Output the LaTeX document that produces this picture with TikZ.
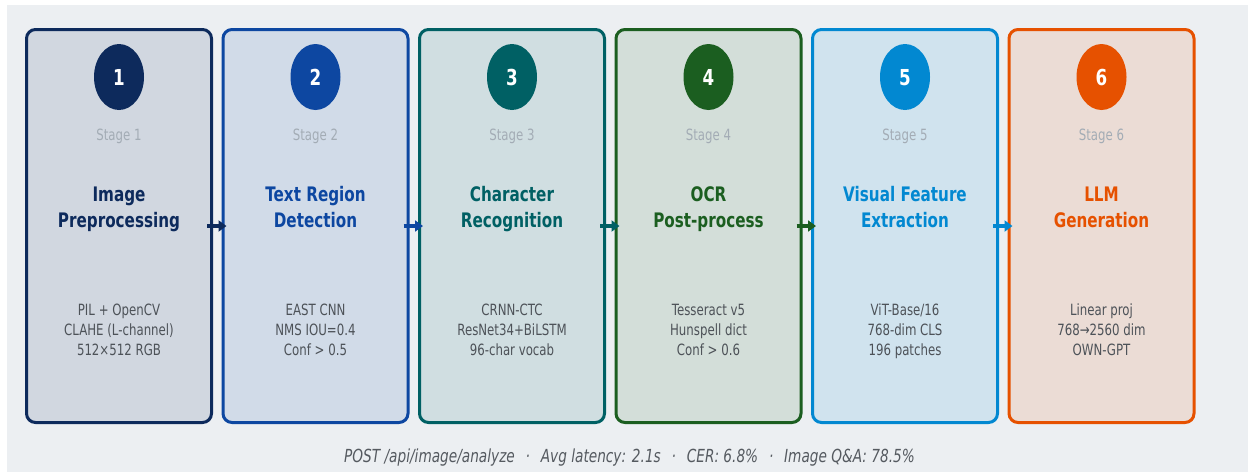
\documentclass[tikz,border=0pt]{standalone}
\usepackage{fontspec}
\setmainfont{DejaVu Sans}[FakeStretch=0.76]
\usetikzlibrary{arrows.meta}
\definecolor{bgc}{HTML}{ECEFF2}
\definecolor{cA}{HTML}{0D2A5C}
\definecolor{cB}{HTML}{0D47A1}
\definecolor{cC}{HTML}{006064}
\definecolor{cD}{HTML}{1B5E20}
\definecolor{cE}{HTML}{0288D1}
\definecolor{cF}{HTML}{E65100}
\definecolor{stagegray}{HTML}{A3ACB5}
\definecolor{detailgray}{HTML}{4D5258}
\definecolor{footgray}{HTML}{555A60}
\tikzset{
  stagecard/.style={draw=#1, fill=#1!12!bgc, line width=3pt, rounded corners=9pt,
    minimum width=185pt, minimum height=393pt, inner sep=0pt},
  stagelabel/.style={font=\fontsize{15.5}{18}\selectfont, text=stagegray, anchor=base, inner sep=0pt},
  titleline/.style={font=\fontsize{20}{24}\selectfont\bfseries, text=#1, anchor=base, inner sep=0pt},
  detailline/.style={font=\fontsize{15.5}{18}\selectfont, text=detailgray, anchor=base, inner sep=0pt},
  numtext/.style={font=\fontsize{22}{24}\selectfont\bfseries, text=white, anchor=base, inner sep=0pt},
  flowarrow/.style={draw=#1, line width=4pt, -{Triangle[length=8pt,width=11pt]}},
}
% #1 index, #2 x centre, #3 colour, #4 title 1, #5 title 2, #6-#8 details
\newcommand\stagebox[8]{%
  \node[stagecard=#3] (b#1) at (#2,226) {};
  \fill[#3] (#2,77) ellipse [x radius=25pt, y radius=33pt];
  \node[numtext] (n#1) at (#2,85) {#1};
  \node[stagelabel] (s#1) at (#2,140) {Stage #1};
  \node[titleline=#3] (ta#1) at (#2,201.5) {#4};
  \node[titleline=#3] (tb#1) at (#2,227.5) {#5};
  \node[detailline] (da#1) at (#2,315) {#6};
  \node[detailline] (db#1) at (#2,335) {#7};
  \node[detailline] (dc#1) at (#2,355) {#8};
}
\begin{document}
\begin{tikzpicture}[x=1pt, y=-1pt]
\useasboundingbox (0,0) rectangle (1248,472);
\fill[white] (0,0) rectangle (1248,472);
\fill[bgc] (7,5) rectangle (1248,472);
\stagebox{1}{119}{cA}{Image}{Preprocessing}{PIL + OpenCV}{CLAHE (L-channel)}{512×512 RGB}
\stagebox{2}{315.5}{cB}{Text Region}{Detection}{EAST CNN}{NMS IOU=0.4}{Conf > 0.5}
\stagebox{3}{512}{cC}{Character}{Recognition}{CRNN-CTC}{ResNet34+BiLSTM}{96-char vocab}
\stagebox{4}{708.5}{cD}{OCR}{Post-process}{Tesseract v5}{Hunspell dict}{Conf > 0.6}
\stagebox{5}{905}{cE}{Visual Feature}{Extraction}{ViT-Base/16}{768-dim CLS}{196 patches}
\stagebox{6}{1101.5}{cF}{LLM}{Generation}{Linear proj}{768→2560 dim}{OWN-GPT}
\draw[flowarrow=cA] ([xshift=-6pt]b1.east) -- ([xshift=5pt]b2.west);
\draw[flowarrow=cB] ([xshift=-6pt]b2.east) -- ([xshift=5pt]b3.west);
\draw[flowarrow=cC] ([xshift=-6pt]b3.east) -- ([xshift=5pt]b4.west);
\draw[flowarrow=cD] ([xshift=-6pt]b4.east) -- ([xshift=5pt]b5.west);
\draw[flowarrow=cE] ([xshift=-6pt]b5.east) -- ([xshift=5pt]b6.west);
\node[anchor=base, inner sep=0pt, text=footgray, font=\fontsize{18}{20}\selectfont\itshape] (foot) at (629.5,462)
  {POST /api/image/analyze\hspace{0.6em}·\hspace{0.6em}Avg latency: 2.1s\hspace{0.6em}·\hspace{0.6em}CER: 6.8\%\hspace{0.6em}·\hspace{0.6em}Image Q\&A: 78.5\%};
\end{tikzpicture}
\end{document}
